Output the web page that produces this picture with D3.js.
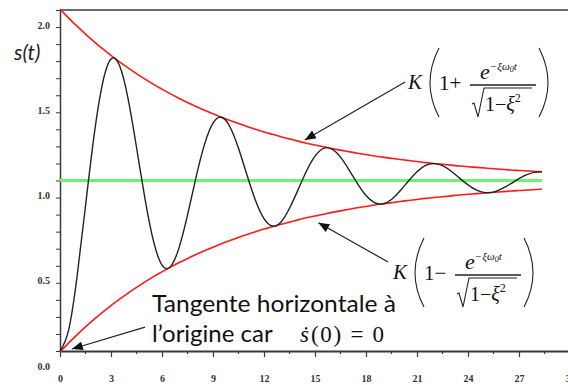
<!DOCTYPE html>
<html><head><meta charset="utf-8">
<script src="https://cdn.jsdelivr.net/npm/d3@7"></script>
<style>body{margin:0;background:#fff;} svg{display:block;}</style>
</head><body>
<svg id="c" width="568" height="385"></svg>
<script>
// ---- data ----
const tValues = [0,0.5,1,1.5,2,2.5,3,3.5,4,4.5,5,5.5,6,6.5,7,7.5,8,8.5,9,9.5,10,10.5,11,11.5,12,12.5,13,13.5,14,14.5,15,15.5,16,16.5,17,17.5,18,18.5,19,19.5,20,20.5,21,21.5,22,22.5,23,23.5,24,24.5,25,25.5,26,26.5,27,27.5,28,28.35];
const response = [0.000,0.120,0.434,0.850,1.260,1.568,1.712,1.674,1.482,1.195,0.892,0.644,0.504,0.495,0.605,0.797,1.018,1.212,1.337,1.371,1.314,1.189,1.032,0.883,0.777,0.733,0.757,0.837,0.945,1.056,1.143,1.189,1.184,1.137,1.063,0.982,0.912,0.870,0.863,0.889,0.938,0.997,1.051,1.088,1.099,1.087,1.056,1.014,0.974,0.943,0.929,0.932,0.953,0.980,1.011,1.036,1.049,1.051];
const upperEnvelope = [2.005,1.954,1.905,1.859,1.815,1.773,1.734,1.696,1.661,1.627,1.595,1.564,1.536,1.508,1.482,1.457,1.434,1.412,1.391,1.371,1.352,1.334,1.317,1.301,1.285,1.271,1.257,1.244,1.231,1.219,1.208,1.198,1.187,1.178,1.169,1.160,1.152,1.144,1.137,1.130,1.123,1.117,1.111,1.105,1.100,1.095,1.090,1.085,1.081,1.077,1.073,1.069,1.066,1.062,1.059,1.056,1.053,1.051];
const lowerEnvelope = [-0.005,0.046,0.095,0.141,0.185,0.227,0.266,0.304,0.339,0.373,0.405,0.436,0.464,0.492,0.518,0.543,0.566,0.588,0.609,0.629,0.648,0.666,0.683,0.699,0.715,0.729,0.743,0.756,0.769,0.781,0.792,0.802,0.813,0.822,0.831,0.840,0.848,0.856,0.863,0.870,0.877,0.883,0.889,0.895,0.900,0.905,0.910,0.915,0.919,0.923,0.927,0.931,0.934,0.938,0.941,0.944,0.947,0.949];
const gainK = 1.0;
const xTickValues = [0,3,6,9,12,15,18,21,24,27,30];
const xMinorTicks = [1.5,4.5,7.5,10.5,13.5,16.5,19.5,22.5,25.5,28.5];
const yTickValues = [0,0.1,0.2,0.3,0.4,0.5,0.6,0.7,0.8,0.9,1,1.1,1.2,1.3,1.4,1.5,1.6,1.7,1.8,1.9,2];
const yTickLabels = {"0":"0.0","0.5":"0.5","1":"1.0","1.5":"1.5","2":"2.0"};
// annotation anchors in data units [t, s]
const upperArrow = {tail:[20.3,1.578], tip:[14.4,1.238]};
const lowerArrow = {tail:[19.3,0.522], tip:[15.2,0.752]};
const originArrow = {tail:[5.0,0.14], tip:[0.7,0.012]};

// ---- drawing ----
const svg = d3.select("#c");
const x = d3.scaleLinear().domain([0,30]).range([60,570]);
const y = d3.scaleLinear().domain([0,2]).range([351,10]);
const axisCol = "#3a3a3a";

// arrow marker
svg.append("defs").append("marker")
  .attr("id","ah").attr("markerUnits","userSpaceOnUse")
  .attr("markerWidth",12).attr("markerHeight",9).attr("refX",11).attr("refY",4.5)
  .attr("orient","auto")
  .append("path").attr("d","M0,0 L11,4.5 L0,9 Z").attr("fill","#111");

// top frame line
svg.append("line").attr("x1",x(0)).attr("x2",568).attr("y1",y(2)).attr("y2",y(2))
  .attr("stroke",axisCol).attr("stroke-width",1.5);

// x axis
const gx = svg.append("g").attr("transform",`translate(0,${y(0)})`)
  .call(d3.axisBottom(x).tickValues(xTickValues).tickSize(6).tickSizeOuter(0).tickPadding(18).tickFormat(d3.format("d")));
gx.select(".domain").attr("stroke",axisCol).attr("stroke-width",2);
gx.selectAll(".tick line").attr("stroke",axisCol).attr("stroke-width",1.2);
gx.selectAll("text").attr("font-family","Liberation Serif").attr("font-size",10).attr("font-weight","bold").attr("fill","#333");
gx.selectAll(".minor").data(xMinorTicks).enter().append("line").attr("class","minor")
  .attr("x1",d=>x(d)).attr("x2",d=>x(d)).attr("y1",0).attr("y2",3)
  .attr("stroke",axisCol).attr("stroke-width",1.2);

// y axis
const gy = svg.append("g").attr("transform",`translate(${x(0)},0)`)
  .call(d3.axisLeft(y).tickValues(yTickValues).tickSize(4).tickSizeOuter(0).tickPadding(6)
    .tickFormat(d=>yTickLabels[String(+d.toFixed(1))] || ""));
gy.select(".domain").attr("stroke",axisCol).attr("stroke-width",1.5);
gy.selectAll(".tick line").attr("stroke",axisCol).attr("stroke-width",1);
gy.selectAll("text").attr("font-family","Liberation Serif").attr("font-size",10).attr("font-weight","bold")
  .attr("fill","#333").attr("dy","1.82em");

// y axis title
svg.append("text").attr("x",14).attr("y",60).text("s(t)")
  .attr("font-family","Lato").attr("font-style","italic").attr("font-size",21).attr("fill","#222");

// data lines
const mk = vals => d3.line().x((d,i)=>x(tValues[i])).y(d=>y(d)).curve(d3.curveNatural)(vals);
svg.append("line").attr("x1",x(tValues[0])).attr("x2",x(tValues[tValues.length-1]))
  .attr("y1",y(gainK)).attr("y2",y(gainK)).attr("stroke","#6ef26e").attr("stroke-width",3);
svg.append("path").attr("d",mk(upperEnvelope)).attr("fill","none").attr("stroke","#ff1a1a").attr("stroke-width",1.6);
svg.append("path").attr("d",mk(lowerEnvelope)).attr("fill","none").attr("stroke","#ff1a1a").attr("stroke-width",1.6);
svg.append("path").attr("d",mk(response)).attr("fill","none").attr("stroke","#222").attr("stroke-width",1.4);

// arrows
[upperArrow,lowerArrow,originArrow].forEach(a=>{
  svg.append("line").attr("x1",x(a.tail[0])).attr("y1",y(a.tail[1]))
    .attr("x2",x(a.tip[0])).attr("y2",y(a.tip[1]))
    .attr("stroke","#222").attr("stroke-width",1.2).attr("marker-end","url(#ah)");
});

// formulas
function formula(ox, oy, sign){
  const g = svg.append("g").attr("transform",`translate(${ox},${oy})`)
    .attr("font-family","Liberation Serif").attr("fill","#111");
  const pen = "#222";
  g.append("text").attr("x",0).attr("y",0).attr("font-size",21).attr("font-style","italic").text("K");
  g.append("path").attr("d","M31,-41 Q13,-6 31,28").attr("fill","none").attr("stroke",pen).attr("stroke-width",1.1);
  g.append("path").attr("d","M131,-41 Q149,-6 131,28").attr("fill","none").attr("stroke",pen).attr("stroke-width",1.1);
  g.append("text").attr("x",31).attr("y",1).attr("font-size",21).text("1" + sign);
  const num = g.append("text").attr("x",72).attr("y",-10).attr("font-size",22).attr("font-style","italic");
  num.append("tspan").text("e");
  num.append("tspan").attr("dy",-9).attr("font-size",11).text("−ξω");
  num.append("tspan").attr("dy",2).attr("font-size",8).text("0");
  num.append("tspan").attr("dy",-2).attr("font-size",11).text("t");
  g.append("line").attr("x1",62).attr("x2",128).attr("y1",-4).attr("y2",-4).attr("stroke",pen).attr("stroke-width",1.3);
  g.append("path").attr("d","M64,15 L66,14 L70,28 L76,-1 L124,-1").attr("fill","none").attr("stroke",pen).attr("stroke-width",1.1);
  const den = g.append("text").attr("x",77).attr("y",22).attr("font-size",20);
  den.append("tspan").text("1−");
  den.append("tspan").attr("font-style","italic").text("ξ");
  den.append("tspan").attr("dy",-9).attr("font-size",12).text("2");
}
formula(408, 89, "+");
formula(393, 279, "−");

// origin note
svg.append("text").attr("x",152).attr("y",312).attr("font-family","Lato").attr("font-size",24).attr("fill","#111")
  .attr("textLength",244).attr("lengthAdjust","spacingAndGlyphs")
  .text("Tangente horizontale à");
svg.append("text").attr("x",152).attr("y",342).attr("font-family","Lato").attr("font-size",24).attr("fill","#111")
  .text("l’origine car");
svg.append("text").attr("x",300).attr("y",342).attr("font-family","Liberation Serif").attr("font-size",23)
  .attr("font-style","italic").attr("fill","#111").text("ṡ");
svg.append("text").attr("x",311).attr("y",342).attr("font-family","Liberation Serif").attr("font-size",23)
  .attr("fill","#111").attr("textLength",73).attr("lengthAdjust","spacing").text("(0) = 0");
</script>
</body></html>
